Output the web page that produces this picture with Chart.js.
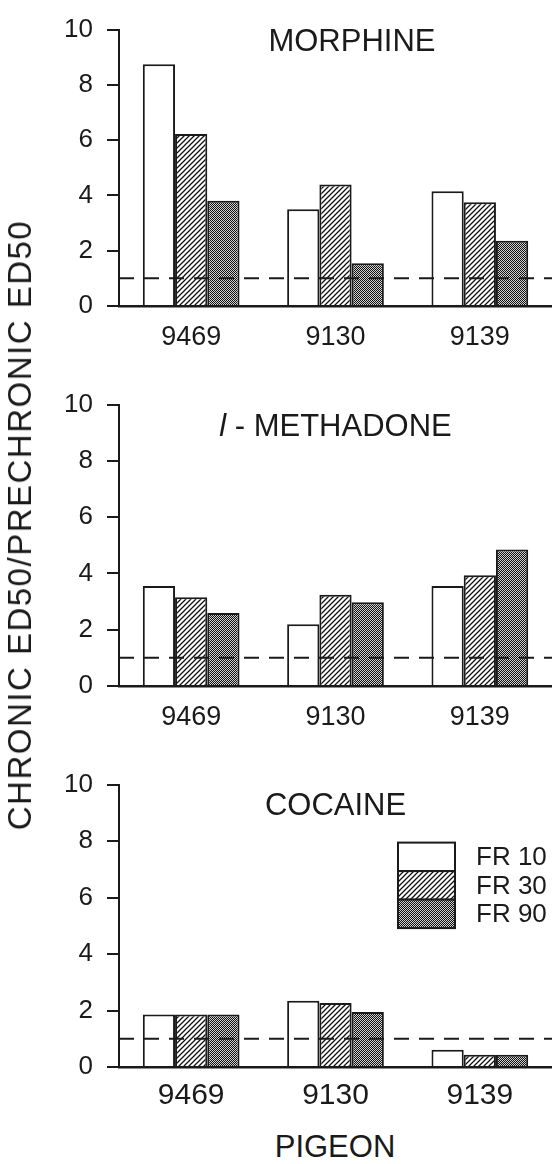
<!DOCTYPE html>
<html>
<head>
  <title>Chronic ED50 / Prechronic ED50 by pigeon</title>
  <script src="https://cdn.jsdelivr.net/npm/chart.js"></script>
  <style>
    body {
      margin: 0;
      background: #fff;
      width: 552px;
      height: 1164px;
      position: relative;
      overflow: hidden;
      font-family: 'Liberation Sans', Arial, sans-serif;
      color: #1a1a1a;
    }
    .panel { position: absolute; left: 0; width: 552px; }
    #panel1 { top: 0;     height: 356px; }
    #panel2 { top: 375px; height: 361px; }
    #panel3 { top: 755px; height: 362px; }
    /* shared axis titles */
    .ytitle {
      position: absolute;
      left: 20px;
      top: 525px;
      font-size: 33px;
      letter-spacing: 1.5px;
      white-space: nowrap;
      transform: translate(-50%, -50%) rotate(-90deg);
    }
    .xtitle {
      position: absolute;
      left: 335px;
      top: 1147px;
      font-size: 31px;
      white-space: nowrap;
      transform: translate(-50%, -50%);
    }
  </style>
</head>
<body>
  <div class="panel" id="panel1"><canvas id="c1"></canvas></div>
  <div class="panel" id="panel2"><canvas id="c2"></canvas></div>
  <div class="panel" id="panel3"><canvas id="c3"></canvas></div>
  <div class="ytitle">CHRONIC ED50/PRECHRONIC ED50</div>
  <div class="xtitle">PIGEON</div>
  <script>
    // --- DATA ---
    const pigeons = ['9469', '9130', '9139'];
    const seriesNames = ['FR 10', 'FR 30', 'FR 90'];
    const yTicks = [0, 2, 4, 6, 8, 10];
    const referenceLevel = 1; // ratio of 1 = no change

    const morphineFR10 = [8.75, 3.50, 4.15];
    const morphineFR30 = [6.22, 4.40, 3.75];
    const morphineFR90 = [3.81, 1.55, 2.36];

    const methadoneFR10 = [3.55, 2.19, 3.55];
    const methadoneFR30 = [3.15, 3.24, 3.94];
    const methadoneFR90 = [2.59, 2.98, 4.85];

    const cocaineFR10 = [1.86, 2.35, 0.61];
    const cocaineFR30 = [1.86, 2.27, 0.43];
    const cocaineFR90 = [1.86, 1.95, 0.43];

    const ink = '#1a1a1a';
    const family = "'Liberation Sans', Arial, sans-serif";
    Chart.defaults.font.family = family;
    Chart.defaults.color = ink;

    // --- FILL PATTERNS ---
    function hatchPattern() {
      const t = document.createElement('canvas');
      t.width = 5; t.height = 5;
      const g = t.getContext('2d');
      g.fillStyle = '#fff';
      g.fillRect(0, 0, 5, 5);
      g.strokeStyle = '#111';
      g.lineWidth = 1.3;
      g.beginPath();
      g.moveTo(-1, 6); g.lineTo(6, -1);
      g.moveTo(-1, 1); g.lineTo(1, -1);
      g.moveTo(4, 6); g.lineTo(6, 4);
      g.stroke();
      return g.createPattern(t, 'repeat');
    }
    function dotPattern() {
      const t = document.createElement('canvas');
      t.width = 2; t.height = 2;
      const g = t.getContext('2d');
      g.fillStyle = '#d0d0d0';
      g.fillRect(0, 0, 2, 2);
      g.fillStyle = '#111';
      g.fillRect(0, 0, 1, 1);
      g.fillRect(1, 1, 1, 1);
      return g.createPattern(t, 'repeat');
    }
    const fills = ['#fff', hatchPattern(), dotPattern()];

    // --- PANEL DECORATION: reference line, title, legend ---
    const panelDecor = {
      id: 'panelDecor',
      afterDatasetsDraw(chart, args, o) {
        const { ctx, chartArea: a } = chart;
        const y = chart.scales.y.getPixelForValue(referenceLevel);
        ctx.save();
        ctx.strokeStyle = ink;
        ctx.lineWidth = 2;
        ctx.setLineDash([15, 10]);
        ctx.beginPath();
        ctx.moveTo(a.left, y);
        ctx.lineTo(a.right, y);
        ctx.stroke();
        ctx.restore();
      },
      afterDraw(chart, args, o) {
        const { ctx, chartArea: a } = chart;
        ctx.save();
        ctx.fillStyle = ink;
        ctx.textBaseline = 'middle';
        ctx.textAlign = 'left';
        // title, may be made of italic + upright parts
        const fonts = o.titleParts.map(p => (p.italic ? 'italic ' : '') + '31px ' + family);
        const widths = o.titleParts.map((p, i) => { ctx.font = fonts[i]; return ctx.measureText(p.text).width; });
        const total = widths.reduce((s, w) => s + w, 0);
        let x = a.left + o.titleX * (a.right - a.left) - total / 2;
        o.titleParts.forEach((p, i) => {
          ctx.font = fonts[i];
          ctx.fillText(p.text, x, a.top + o.titleY);
          x += widths[i];
        });
        if (o.legend) {
          const bx = 398, bw = 57, bh = 28.5;
          let by = a.top + 58;
          chart.data.datasets.forEach((ds, i) => {
            ctx.fillStyle = ds.backgroundColor;
            ctx.fillRect(bx, by, bw, bh);
            ctx.strokeStyle = ink;
            ctx.lineWidth = 2;
            ctx.strokeRect(bx, by, bw, bh);
            ctx.fillStyle = ink;
            ctx.font = '26px ' + family;
            ctx.fillText(ds.label, 476, by + bh / 2 + 1);
            by += bh;
          });
        }
        ctx.restore();
      }
    };

    function makePanel(id, values, decor, xFont, xPad) {
      return new Chart(document.getElementById(id), {
        type: 'bar',
        data: {
          labels: pigeons,
          datasets: values.map((v, i) => ({
            label: seriesNames[i],
            data: v,
            backgroundColor: fills[i],
            borderColor: ink,
            borderWidth: 2,
            barPercentage: 1.0,
            categoryPercentage: 0.67
          }))
        },
        options: {
          responsive: true,
          maintainAspectRatio: false,
          animation: false,
          events: [],
          layout: { padding: { top: 20, right: 0, bottom: 0, left: 0 } },
          plugins: {
            legend: { display: false },
            tooltip: { enabled: false },
            panelDecor: decor
          },
          scales: {
            x: {
              grid: { display: false, drawTicks: false },
              border: { display: true, color: ink, width: 2.5 },
              ticks: { font: { size: xFont }, color: ink, padding: xPad, maxRotation: 0 },
              afterFit: s => { s.height = 50; }
            },
            y: {
              min: 0,
              max: 10,
              afterBuildTicks: s => { s.ticks = yTicks.map(v => ({ value: v })); },
              grid: { drawOnChartArea: false, drawTicks: true, tickLength: 12, color: ink, lineWidth: 2 },
              border: { display: true, color: ink, width: 2 },
              ticks: { font: { size: 26 }, color: ink, padding: 14 },
              afterFit: s => { s.width = 119; }
            }
          }
        },
        plugins: [panelDecor]
      });
    }

    makePanel('c1', [morphineFR10, morphineFR30, morphineFR90],
      { titleParts: [{ text: 'MORPHINE' }], titleX: 0.538, titleY: 13 }, 27, 15);
    makePanel('c2', [methadoneFR10, methadoneFR30, methadoneFR90],
      { titleParts: [{ text: 'l', italic: true }, { text: ' - METHADONE' }], titleX: 0.50, titleY: 23 }, 27, 15);
    makePanel('c3', [cocaineFR10, cocaineFR30, cocaineFR90],
      { titleParts: [{ text: 'COCAINE' }], titleX: 0.50, titleY: 22, legend: true }, 30, 11);
  </script>
</body>
</html>
